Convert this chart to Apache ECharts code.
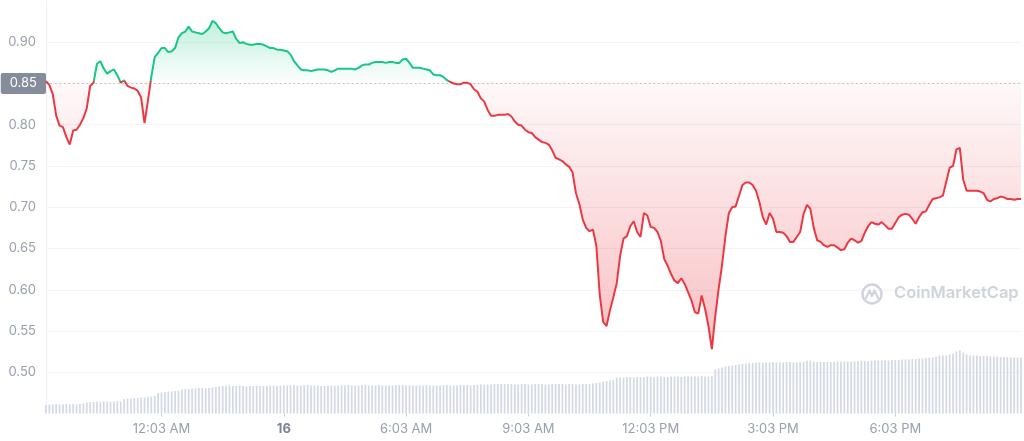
<!DOCTYPE html>
<html><head><meta charset="utf-8">
<script src="https://cdn.jsdelivr.net/npm/echarts@6/dist/echarts.min.js"></script>
<style>html,body{margin:0;padding:0;background:#fff}#chart{width:1024px;height:441px}</style>
</head><body><div id="chart"></div>
<script>
// ---- data ----
const openPrice = 0.8535;          // opening price (dotted reference line)
const openLabel = '0.85';
const startMinutes = 21 * 60 + 13; // first sample 9:13 PM on the 15th
const stepMinutes = 5;

const price = [
0.853,0.848,0.837,0.811,0.799,0.797,0.785,0.776,0.793,0.794,
0.800,0.808,0.820,0.847,0.851,0.874,0.877,0.868,0.862,0.865,
0.867,0.860,0.851,0.854,0.847,0.845,0.844,0.841,0.833,0.802,
0.829,0.858,0.882,0.887,0.893,0.893,0.888,0.889,0.893,0.906,
0.911,0.913,0.919,0.913,0.912,0.911,0.910,0.913,0.917,0.926,
0.923,0.917,0.912,0.911,0.912,0.913,0.904,0.899,0.900,0.898,
0.897,0.897,0.898,0.898,0.897,0.895,0.893,0.893,0.891,0.891,
0.890,0.889,0.885,0.877,0.872,0.867,0.866,0.866,0.865,0.866,
0.867,0.867,0.867,0.866,0.864,0.866,0.868,0.868,0.868,0.868,
0.868,0.867,0.869,0.872,0.873,0.873,0.875,0.876,0.876,0.876,
0.875,0.876,0.876,0.875,0.875,0.879,0.880,0.875,0.869,0.869,
0.869,0.868,0.867,0.866,0.861,0.860,0.860,0.858,0.854,0.852,
0.850,0.849,0.849,0.851,0.851,0.849,0.843,0.840,0.832,0.828,
0.818,0.811,0.811,0.812,0.812,0.812,0.813,0.810,0.804,0.800,
0.799,0.794,0.791,0.790,0.785,0.782,0.779,0.778,0.776,0.769,
0.760,0.758,0.756,0.752,0.749,0.742,0.717,0.704,0.685,0.675,
0.671,0.673,0.653,0.594,0.561,0.556,0.575,0.591,0.608,0.641,
0.662,0.665,0.677,0.683,0.670,0.664,0.693,0.690,0.676,0.675,
0.670,0.659,0.637,0.629,0.619,0.611,0.608,0.614,0.607,0.597,
0.587,0.573,0.571,0.593,0.577,0.556,0.528,0.568,0.601,0.630,
0.665,0.693,0.700,0.701,0.714,0.727,0.730,0.730,0.727,0.720,
0.706,0.688,0.679,0.693,0.686,0.670,0.670,0.669,0.665,0.658,
0.658,0.664,0.670,0.692,0.703,0.698,0.675,0.660,0.658,0.654,
0.652,0.654,0.654,0.651,0.648,0.649,0.657,0.662,0.660,0.657,
0.659,0.669,0.677,0.682,0.680,0.679,0.682,0.678,0.674,0.674,
0.681,0.688,0.691,0.692,0.691,0.686,0.680,0.688,0.694,0.695,
0.703,0.710,0.711,0.712,0.714,0.731,0.748,0.750,0.770,0.772,
0.733,0.720,0.720,0.720,0.720,0.719,0.717,0.709,0.707,0.710,
0.711,0.713,0.712,0.710,0.710,0.709,0.710,0.710
];

const volume = [
8.5,9,9,9.5,9,9,9.5,9,9.5,9,9.5,10,
11,11.5,11.5,12,11.5,12,12,11.5,12,12.5,12,
14.5,15,15,15.5,15.5,16,16,16.5,17,17.5,
20.5,21,21.5,22,22,22.5,23,
24,24.5,24.5,25,25,25.5,25.5,25,25.5,26,26.5,
27,27.5,27.5,28,27.5,27.5,28,27.5,27,27.5,
27.5,28,27.5,27.5,27.5,28,28,27.5,27.5,28,
28,28,28.5,28,28,28.5,28.5,28,28,28,
27.5,27.5,28,28,27.5,28,28,28,28.5,28,
28,28,28.5,28.5,28,28,28,28.5,28,28,
28,28,28,28.5,28.5,28,28,28,28,28,
28,28.5,28,28,28,28,28.5,28.5,28,28,
28,28.5,28.5,28.5,28,28.5,28.5,29,29,29,
29,29.5,29.5,29.5,29.5,29.5,29.5,29,29,29.5,
29.5,29,29,29.5,29.5,29.5,29,29,29.5,29.5,
29.5,29.5,29,29.5,29.5,29,29,29.5,29.5,29.5,
30,30.5,31,32,32.5,33,33.5,
35.5,36,36,36.5,36.5,36,36.5,36.5,36.5,37,36.5,36.5,37,37,36.5,36.5,37,37,37,36.5,37,37,37,37,37,37.5,37,37,37.5,
44,45,46,47,47.5,48,48.5,49,49.5,
50,50.5,50.5,51,51,50.5,51,51,51.5,51,
51,51,51.5,51.5,51,51,51.5,52,53,53,
52,51.5,51.5,51.5,51.5,51.5,52,52,52,52,
52,52,52,52.5,52.5,52.5,52.5,53,53,53,
53,53,53,53.5,53.5,53.5,54,54,54,54.5,
54.5,55,55,55.5,56,56,57,58,58,58,
59,60,
62,63,61,
59,58,58,58,57.5,57.5,57.5,57,57,57,56.5,56.5,56.5,56,56,56,56
];

const tickIndex  = [34, 70, 106, 142, 178, 214, 250];
const tickLabels = ['12:03 AM', '16', '6:03 AM', '9:03 AM', '12:03 PM', '3:03 PM', '6:03 PM'];
const boldTicks  = ['16'];

// ---- build ----
const categories = price.map((_, i) => {
  const m = (startMinutes + i * stepMinutes) % 1440;
  const h = Math.floor(m / 60), mm = m % 60;
  return ((h % 12) || 12) + ':' + String(mm).padStart(2, '0') + ' ' + (h < 12 ? 'AM' : 'PM');
});

const GREEN = '#16c784', RED = '#ea3943';
const chart = echarts.init(document.getElementById('chart'), null, { renderer: 'canvas' });

const option = {
  animation: false,
  backgroundColor: '#ffffff',
  textStyle: { fontFamily: 'Inter, "Noto Sans", sans-serif' },
  grid: { left: 46, right: 3, top: 1, height: 412.5, containLabel: false },
  xAxis: {
    type: 'category',
    data: categories,
    boundaryGap: false,
    axisLine: { show: false },
    axisTick: {
      show: true, length: 3,
      interval: (i) => tickIndex.includes(i),
      lineStyle: { color: '#c7ccd6' }
    },
    axisLabel: {
      interval: (i) => tickIndex.includes(i),
      margin: 9,
      color: '#98a0ae',
      fontSize: 13,
      formatter: (v, i) => {
        const k = tickIndex.indexOf(i);
        if (k < 0) return '';
        const t = tickLabels[k];
        return boldTicks.includes(t) ? '{b|' + t + '}' : t;
      },
      rich: { b: { fontWeight: 'bold', color: '#7c8495', fontSize: 13 } }
    },
    splitLine: { show: false }
  },
  yAxis: [
    {
      type: 'value',
      min: 0.45, max: 0.95, interval: 0.05,
      axisLine: { show: true, lineStyle: { color: '#f0f1f5' } },
      axisTick: { show: false },
      axisLabel: {
        showMinLabel: false, showMaxLabel: false,
        margin: 10, color: '#98a0ae', fontSize: 13,
        formatter: (v) => v.toFixed(2)
      },
      splitLine: { show: true, showMinLine: false, showMaxLine: false, lineStyle: { color: '#f1f3f6', width: 1 } }
    },
    {
      type: 'value', min: 0, max: 412.5, show: false,
      splitLine: { show: false }
    }
  ],
  visualMap: {
    type: 'piecewise', show: false, seriesIndex: 0, dimension: 1,
    pieces: [
      { gt: openPrice, lte: 5, color: GREEN },
      { gte: -5, lte: openPrice, color: RED }
    ]
  },
  graphic: [
    { type: 'circle', shape: { cx: 872, cy: 294, r: 9.5 }, style: { fill: 'none', stroke: '#d0d4dd', lineWidth: 2.4 }, silent: true, z: 1 },
    { type: 'polyline', shape: { points: [[866, 298], [869.5, 290.5], [872, 296], [874.5, 290.5], [878, 298]] }, style: { fill: 'none', stroke: '#d0d4dd', lineWidth: 2.2, lineJoin: 'round', lineCap: 'round' }, silent: true, z: 1 },
    { type: 'text', left: 894, top: 285, style: { text: 'CoinMarketCap', fill: '#cfd3dc', font: '600 16.5px Inter, "Noto Sans", sans-serif' }, silent: true, z: 1 }
  ],
  series: [
    {
      name: 'Price', type: 'line', data: price, yAxisIndex: 0,
      showSymbol: false, smooth: false, z: 5,
      lineStyle: { width: 2 },
      areaStyle: {
        origin: openPrice, opacity: 1,
        color: {
          type: 'linear', x: 0, y: 0, x2: 0, y2: 441, global: true,
          colorStops: [
            { offset: 0.00, color: 'rgba(22,199,132,0.36)' },
            { offset: 0.183, color: 'rgba(22,199,132,0.02)' },
            { offset: 0.183, color: 'rgba(234,57,67,0.03)' },
            { offset: 0.80, color: 'rgba(234,57,67,0.32)' },
            { offset: 1.00, color: 'rgba(234,57,67,0.32)' }
          ]
        }
      },
      markLine: {
        silent: true, symbol: 'none',
        lineStyle: { type: [1.5, 3], color: '#b9bec8', width: 1 },
        label: {
          show: true, position: 'start', distance: 0,
          formatter: openLabel,
          color: '#ffffff', fontSize: 13,
          backgroundColor: '#858c9b', padding: [4, 9, 4, 9], borderRadius: 2
        },
        data: [{ yAxis: openPrice }]
      }
    },
    {
      name: 'Volume', type: 'bar', data: volume, yAxisIndex: 1,
      barWidth: '50%', z: 2,
      itemStyle: { color: '#d3d8e5' }
    }
  ]
};
chart.setOption(option);
</script>
</body></html>
